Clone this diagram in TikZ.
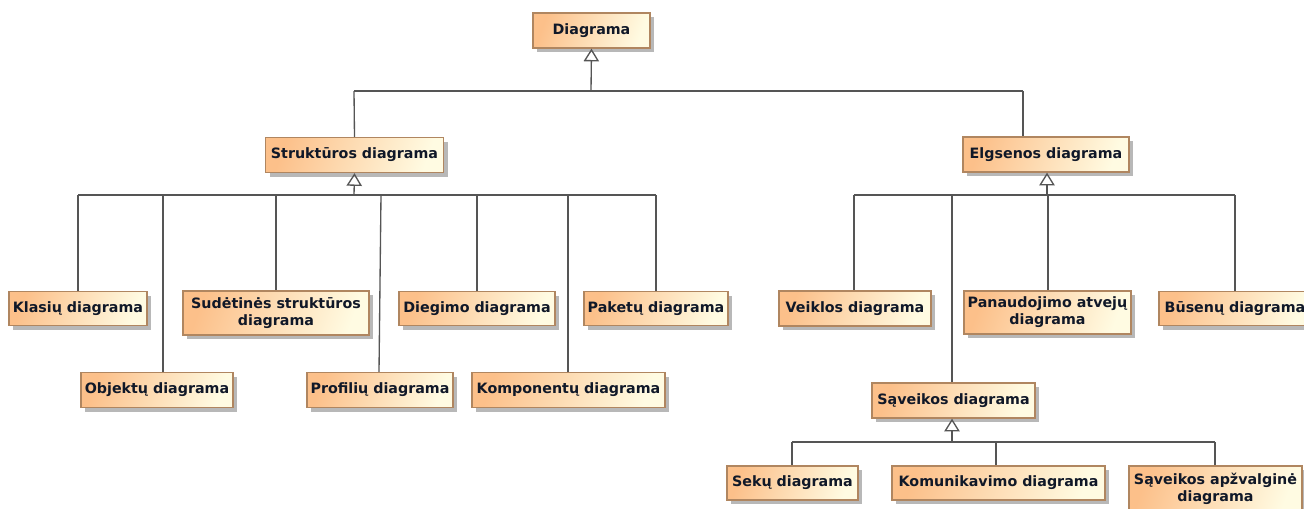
\documentclass[tikz,border=0pt]{standalone}
\usepackage{fontspec}
\setmainfont{DejaVu Sans}
\usetikzlibrary{arrows.meta,shadows}
\definecolor{boxorange}{HTML}{FCC08A}
\definecolor{boxlight}{HTML}{FFFBE2}
\definecolor{boxedge}{HTML}{B08660}
\definecolor{linkgray}{HTML}{555555}
\definecolor{labelink}{HTML}{101828}
\tikzset{
  classbox/.style={draw=boxedge, line width=1pt,
    left color=boxorange, right color=boxlight, shading angle=70,
    drop shadow={shadow xshift=3pt, shadow yshift=-3pt, fill=black, opacity=0.28},
    text=labelink, align=center, inner sep=0pt,
    font=\fontsize{10.7}{12.8}\selectfont\bfseries},
  link/.style={draw=linkgray, line width=1pt},
  genlink/.style={link, -{Triangle[open, width=11.5pt, length=9.5pt]}},
}
\begin{document}
\begin{tikzpicture}[x=0.75pt, y=-0.75pt]
\useasboundingbox (0,0) rectangle (1304,508);
\clip (0,0) rectangle (1304,508);
\fill[white] (0,0) rectangle (1304,508);

% root
\node[classbox, minimum width=117*0.75pt, minimum height=35*0.75pt] (diag) at (591.5,30.5) {Diagrama};

% second level
\node[classbox, minimum width=178*0.75pt, minimum height=35*0.75pt] (strukt) at (354.5,155) {Struktūros diagrama};
\node[classbox, minimum width=166*0.75pt, minimum height=35*0.75pt] (elg) at (1046,154.5) {Elgsenos diagrama};

% structure diagrams
\node[classbox, minimum width=138*0.75pt, minimum height=34*0.75pt] (klas) at (78,308.5) {Klasių diagrama};
\node[classbox, minimum width=152*0.75pt, minimum height=35*0.75pt] (obj) at (157,390) {Objektų diagrama};
\node[classbox, minimum width=186*0.75pt, minimum height=44*0.75pt] (sud) at (276,313) {Sudėtinės struktūros\\diagrama};
\node[classbox, minimum width=146*0.75pt, minimum height=35*0.75pt] (prof) at (380,390) {Profilių diagrama};
\node[classbox, minimum width=156*0.75pt, minimum height=34*0.75pt] (dieg) at (477,308.5) {Diegimo diagrama};
\node[classbox, minimum width=193*0.75pt, minimum height=35*0.75pt] (komp) at (568.5,390) {Komponentų diagrama};
\node[classbox, minimum width=144*0.75pt, minimum height=34*0.75pt] (pak) at (656,308.5) {Paketų diagrama};

% behaviour diagrams
\node[classbox, minimum width=152*0.75pt, minimum height=35*0.75pt] (veik) at (855,308.5) {Veiklos diagrama};
\node[classbox, minimum width=167*0.75pt, minimum height=43*0.75pt] (pan) at (1047.5,312.5) {Panaudojimo atvejų\\diagrama};
\node[classbox, minimum width=152*0.75pt, minimum height=34*0.75pt] (bus) at (1235,308.5) {Būsenų diagrama};
\node[classbox, minimum width=163*0.75pt, minimum height=35*0.75pt] (sav) at (953.5,400.5) {Sąveikos diagrama};

% interaction diagrams
\node[classbox, minimum width=131*0.75pt, minimum height=34*0.75pt] (sek) at (792.5,483) {Sekų diagrama};
\node[classbox, minimum width=213*0.75pt, minimum height=34*0.75pt] (kom) at (998.5,483) {Komunikavimo diagrama};
\node[classbox, minimum width=173*0.75pt, minimum height=46*0.75pt] (apz) at (1215.5,489) {Sąveikos apžvalginė\\diagrama};

% junction points of the generalisation trees
\coordinate (jroot) at (591,91);
\coordinate (jstr) at (354,195);
\coordinate (jelg) at (1047,195);
\coordinate (jsav) at (952,442);

% Diagrama
\draw[genlink] (jroot) -- (diag.south);
\draw[link] (354,91) -- (1023,91);
\draw[link] (354,91) -- (strukt.north);
\draw[link] (1023,91) -- (1023,0 |- elg.north);

% Struktūros diagrama
\draw[genlink] (jstr) -- (strukt.south);
\draw[link] (78,195) -- (656,195);
\draw[link] (78,195) -- (78,0 |- klas.north);
\draw[link] (163,195) -- (163,0 |- obj.north);
\draw[link] (276,195) -- (276,0 |- sud.north);
\draw[link] (381,195) -- (379,0 |- prof.north);
\draw[link] (477,195) -- (477,0 |- dieg.north);
\draw[link] (568,195) -- (568,0 |- komp.north);
\draw[link] (656,195) -- (656,0 |- pak.north);

% Elgsenos diagrama
\draw[genlink] (jelg) -- (1047,0 |- elg.south);
\draw[link] (854,195) -- (1235,195);
\draw[link] (854,195) -- (854,0 |- veik.north);
\draw[link] (952,195) -- (952,0 |- sav.north);
\draw[link] (1048,195) -- (1048,0 |- pan.north);
\draw[link] (1235,195) -- (1235,0 |- bus.north);

% Sąveikos diagrama
\draw[genlink] (jsav) -- (952,0 |- sav.south);
\draw[link] (792,442) -- (1215,442);
\draw[link] (792,442) -- (792,0 |- sek.north);
\draw[link] (996,442) -- (996,0 |- kom.north);
\draw[link] (1215,442) -- (1215,0 |- apz.north);
\end{tikzpicture}
\end{document}
